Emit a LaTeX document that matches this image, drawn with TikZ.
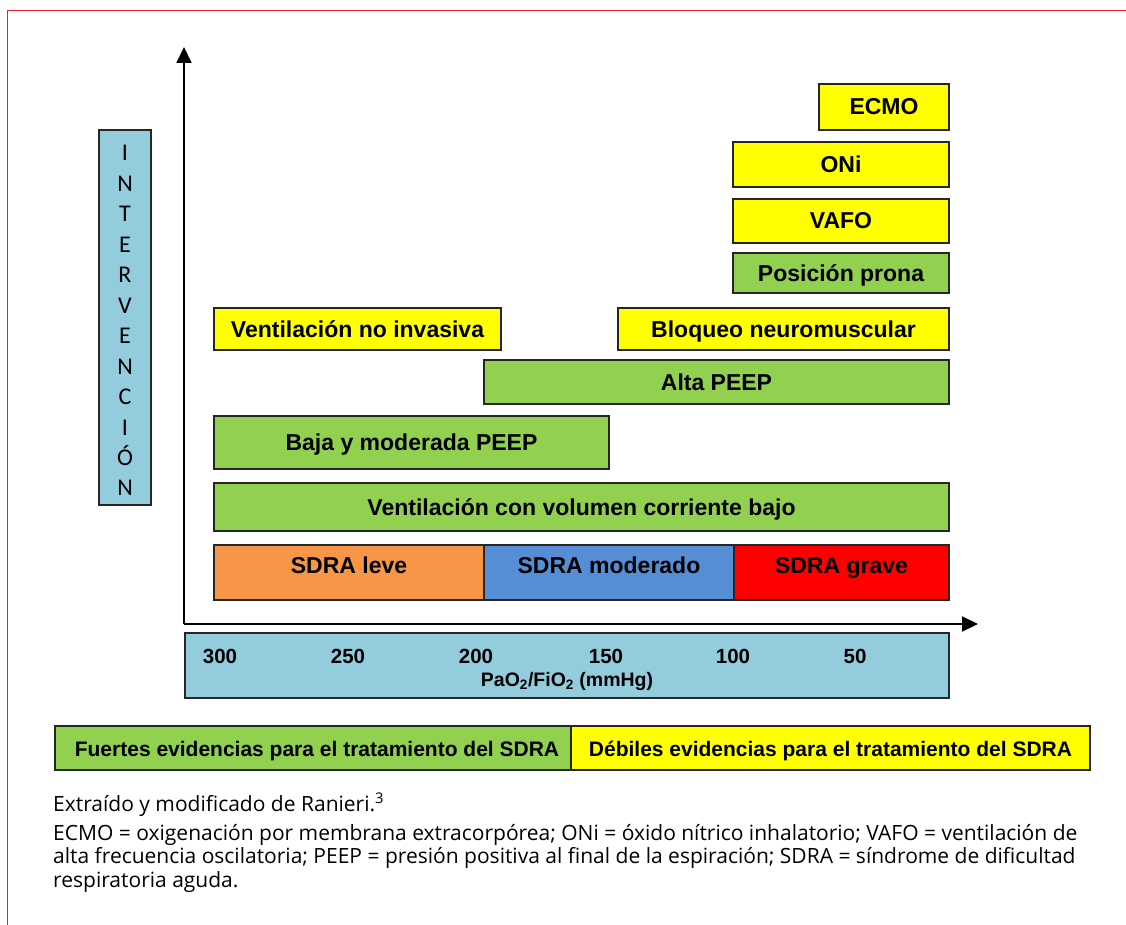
\documentclass[tikz,border=0pt]{standalone}
\usepackage{fontspec}
\setmainfont{Liberation Sans}
\newfontfamily\capfont{Open Sans}
\newfontfamily\vfont{Carlito}
\usetikzlibrary{arrows.meta}
\definecolor{cyel}{HTML}{FFFF00}
\definecolor{cgrn}{HTML}{92D050}
\definecolor{corg}{HTML}{F79646}
\definecolor{cblu}{HTML}{558ED5}
\definecolor{cred}{HTML}{FF0000}
\definecolor{clbl}{HTML}{93CDDD}
\definecolor{cframe}{HTML}{E8202A}
\newcommand{\mybox}[8][]{%
  \node[barbox, fill=#7, minimum width={(#5-#3)*1pt}, minimum height={(#6-#4)*1pt}, #1]
    (#2) at ({(#3+#5)/2},{(#4+#6)/2}) {#8};}
\begin{document}
\begin{tikzpicture}[x=1pt, y=-1pt,
  barbox/.style={draw=black!85, line width=2pt, rectangle, inner sep=0pt,
    text height=17pt, text depth=1pt,
    font=\fontsize{23}{27}\selectfont\bfseries, text=black},
  sdra/.style={text height=17pt, text depth=16pt},
  evbox/.style={barbox, font=\fontsize{21}{25}\selectfont\bfseries},
  axisline/.style={line width=2pt, -{Triangle[length=16pt,width=15pt]}},
  tick/.style={font=\fontsize{20.5}{24}\selectfont\bfseries, anchor=base},
  vletter/.style={font=\vfont\fontsize{24}{27}\selectfont, anchor=base, inner sep=0pt},
  capline/.style={font=\capfont\fontsize{21}{24}\selectfont, anchor=base west, inner sep=0pt},
  frame/.style={draw=cframe, line width=1.8pt}]
\useasboundingbox (0,0) rectangle (1126,925);
% red frame
\coordinate (fbl) at (7.5,925);
\coordinate (ftl) at (7.5,10.5);
\coordinate (ftr) at (1126,10.5);
\draw[frame] (fbl) -- (ftl) -- (ftr);
% vertical label
\node[draw=black!85, line width=2pt, fill=clbl, minimum width=52pt, minimum height=375pt, inner sep=0pt] (vbox) at (125,317.5) {};
\foreach \L [count=\i] in {I,N,T,E,R,V,E,N,C,I,Ó,N}
  \node[vletter] (l\i) at (125,{161+(\i-1)*30.45}) {\L};
% axes
\coordinate (O) at (184,624);
\coordinate (Ytip) at (184,47);
\coordinate (Xtip) at (978,624);
\draw[axisline] (O) -- (Ytip);
\draw[axisline] (O) -- (Xtip);
% interventions
\mybox{ecmo}{819}{84}{949}{130}{cyel}{ECMO}
\mybox{oni}{733}{142}{949}{187}{cyel}{ONi}
\mybox{vafo}{733}{199}{949}{243}{cyel}{VAFO}
\mybox{prona}{733}{253}{949}{293}{cgrn}{Posición prona}
\mybox{vni}{214}{308}{501}{350}{cyel}{Ventilación no invasiva}
\mybox{bloq}{618}{308}{949}{350}{cyel}{Bloqueo neuromuscular}
\mybox{alta}{484}{360}{949}{404}{cgrn}{Alta PEEP}
\mybox{baja}{214}{416}{609}{469}{cgrn}{Baja y moderada PEEP}
\mybox{vcb}{214}{483}{949}{531}{cgrn}{Ventilación con volumen corriente bajo}
% SDRA severity
\mybox[sdra]{leve}{214}{545}{484}{600}{corg}{SDRA leve}
\mybox[sdra]{mod}{484}{545}{734}{600}{cblu}{SDRA moderado}
\mybox[sdra]{grave}{734}{545}{949}{600}{cred}{SDRA grave}
% x axis scale box
\node[draw=black!85, line width=2pt, fill=clbl, minimum width=764pt, minimum height=65pt, inner sep=0pt] (scale) at (567,665.5) {};
\node[tick] (t300) at (220,663) {300};
\node[tick] (t250) at (348,663) {250};
\node[tick] (t200) at (476,663) {200};
\node[tick] (t150) at (606,663) {150};
\node[tick] (t100) at (733,663) {100};
\node[tick] (t50) at (855,663) {50};
\node[tick, font=\fontsize{19.5}{24}\selectfont\bfseries] (unit) at (567,686.5) {PaO\textsubscript{2}/FiO\textsubscript{2} (mmHg)};
% evidence bar
\node[evbox, fill=cgrn, minimum width=516pt, minimum height=44pt] (fuertes) at (313,748) {\hspace*{8pt}Fuertes evidencias para el tratamiento del SDRA};
\node[evbox, fill=cyel, minimum width=519pt, minimum height=44pt] (debiles) at (830.5,748) {Débiles evidencias para el tratamiento del SDRA};
% caption
\node[capline] (cap1) at (53,811) {Extraído y modificado de Ranieri.\textsuperscript{3}};
\node[capline] (cap2) at (53,840) {ECMO = oxigenación por membrana extracorpórea; ONi = óxido nítrico inhalatorio; VAFO = ventilación de};
\node[capline] (cap3) at (53,863.5) {alta frecuencia oscilatoria; PEEP = presión positiva al final de la espiración; SDRA = síndrome de dificultad};
\node[capline] (cap4) at (53,887) {respiratoria aguda.};
\end{tikzpicture}
\end{document}
